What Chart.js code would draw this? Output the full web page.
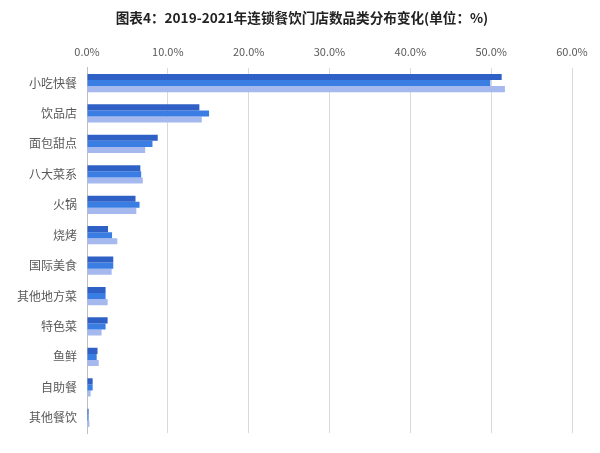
<!DOCTYPE html>
<html>
<head>
<meta charset="utf-8">
<script src="https://cdn.jsdelivr.net/npm/chart.js@4/dist/chart.umd.min.js"></script>
<style>
    html, body { margin: 0; padding: 0; background: #fff; }
    #wrap { width: 600px; height: 453px; }
</style>
</head>
<body>
<div id="wrap"><canvas id="store-chart"></canvas></div>
<script>
// Categories and values (%)
const categories = ['小吃快餐', '饮品店', '面包甜点', '八大菜系', '火锅', '烧烤', '国际美食', '其他地方菜', '特色菜', '鱼鲜', '自助餐', '其他餐饮'];
const values2019 = [51.3, 13.9, 8.75, 6.6, 6.0, 2.6, 3.25, 2.3, 2.55, 1.3, 0.7, 0.2];
const values2020 = [49.9, 15.1, 8.1, 6.7, 6.5, 3.1, 3.25, 2.3, 2.3, 1.2, 0.7, 0.2];
const values2021 = [51.7, 14.2, 7.2, 6.9, 6.1, 3.75, 3.05, 2.55, 1.8, 1.45, 0.45, 0.3];
const xTicks = [0, 10, 20, 30, 40, 50, 60];

const cjk = '"Noto Sans CJK SC", "Noto Sans", sans-serif';

// the reference title sits a little right of the canvas centre
const shiftTitle = {
    id: 'shiftTitle',
    afterLayout: function(chart) {
        if (chart.titleBlock) chart.titleBlock.left += 25;
    }
};

document.addEventListener('DOMContentLoaded', function() {
    const ctx = document.getElementById('store-chart').getContext('2d');
    const storeChart = new Chart(ctx, {
        type: 'bar',
        data: {
            labels: categories,
            datasets: [{
                label: '2019年',
                data: values2019,
                backgroundColor: '#2f60c6'
            }, {
                label: '2020年',
                data: values2020,
                backgroundColor: '#3a7ee3'
            }, {
                label: '2021年',
                data: values2021,
                backgroundColor: '#a5b9ef'
            }]
        },
        plugins: [shiftTitle],
        options: {
            indexAxis: 'y',
            responsive: true,
            maintainAspectRatio: false,
            animation: false,
            layout: {
                padding: { left: 7, right: 28, top: 0, bottom: 20 }
            },
            datasets: {
                bar: {
                    categoryPercentage: 0.6,
                    barPercentage: 1.0
                }
            },
            plugins: {
                legend: { display: false },
                tooltip: { enabled: false },
                title: {
                    display: true,
                    text: '图表4：2019-2021年连锁餐饮门店数品类分布变化(单位：%)',
                    color: '#222',
                    font: { family: cjk, size: 13.6, weight: 'bold', lineHeight: 1.15 },
                    padding: { top: 10, bottom: 11 }
                }
            },
            scales: {
                x: {
                    position: 'top',
                    min: 0,
                    max: 60,
                    afterBuildTicks: function(axis) {
                        axis.ticks = xTicks.map(v => ({ value: v }));
                    },
                    grid: {
                        color: '#d9d9d9',
                        drawTicks: false
                    },
                    border: { display: false },
                    ticks: {
                        padding: 9,
                        color: '#595959',
                        font: { family: cjk, size: 11 },
                        callback: function(v) { return v.toFixed(1) + '%'; }
                    }
                },
                y: {
                    grid: { display: false, drawTicks: false },
                    border: { display: true, color: '#bfbfbf' },
                    ticks: {
                        padding: 10,
                        color: '#595959',
                        font: { family: cjk, size: 12 }
                    }
                }
            }
        }
    });
});
</script>
</body>
</html>
